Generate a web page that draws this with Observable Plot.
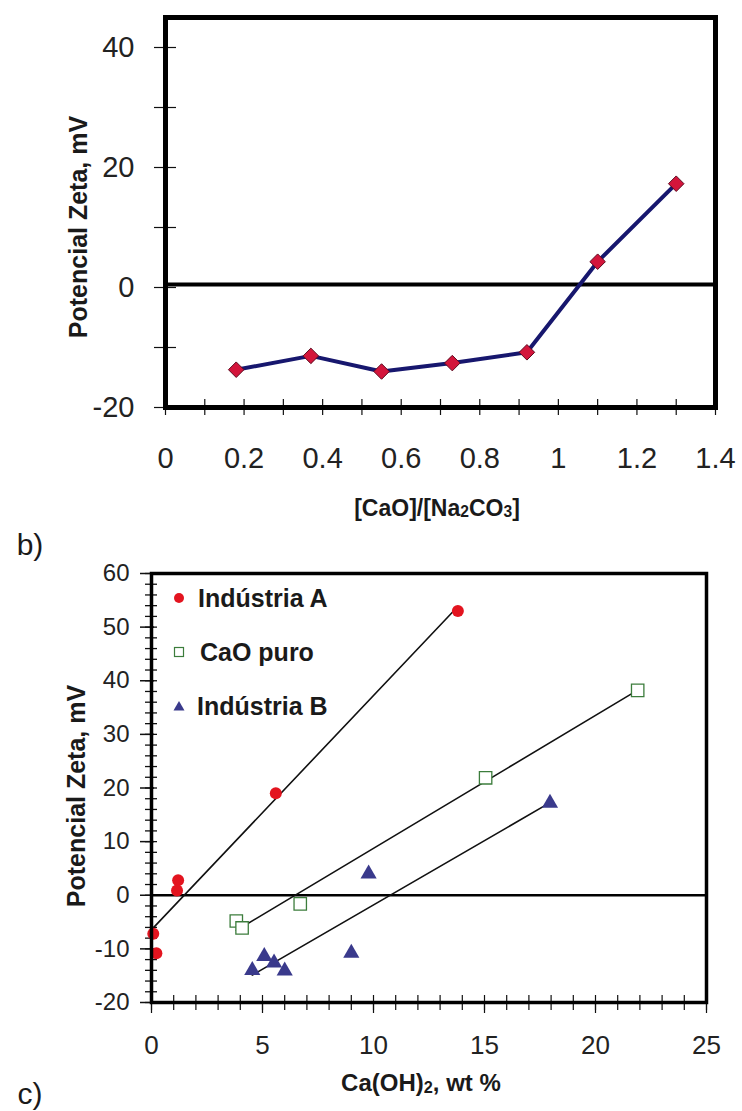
<!DOCTYPE html>
<html>
<head>
<meta charset="utf-8">
<script src="https://cdn.jsdelivr.net/npm/d3@7"></script>
<script src="https://cdn.jsdelivr.net/npm/@observablehq/plot@0.6"></script>
<style>
  html, body { margin: 0; padding: 0; background: #fff; }
  #wrap { position: relative; width: 742px; height: 1111px; overflow: hidden; background: #fff;
          font-family: "Liberation Sans", Arial, sans-serif; color: #1a1a1a; }
  #wrap svg { position: absolute; left: 0; }
  .t { position: absolute; white-space: nowrap; line-height: 1; }
  .c { transform: translate(-50%, -50%); }
  .rot { transform: translate(-50%, -50%) rotate(-90deg); }
  .bold { font-weight: bold; }
  sub { font-size: 0.68em; vertical-align: -0.12em; line-height: 0; }
  .leg { position: absolute; display: flex; align-items: center; font-weight: bold; font-size: 25px; color: #1a1a1a; }
</style>
</head>
<body>
<div id="wrap"></div>
<script>
// ---------- Panel b: zeta potential vs [CaO]/[Na2CO3] ----------
const ratioCaONa = [0.18, 0.37, 0.55, 0.73, 0.92, 1.10, 1.30];
const zetaRatio  = [-13.7, -11.4, -14.0, -12.6, -10.8, 4.3, 17.3];
const xLabelsB   = [0, 0.2, 0.4, 0.6, 0.8, 1, 1.2, 1.4];
const xMinorB    = [0, 0.1, 0.2, 0.3, 0.4, 0.5, 0.6, 0.7, 0.8, 0.9, 1.0, 1.1, 1.2, 1.3, 1.4];
const yLabelsB   = [-20, 0, 20, 40];
const yMinorB    = [-20, -10, 0, 10, 20, 30, 40];
const refLineB   = [0.5];

// ---------- Panel c: zeta potential vs Ca(OH)2 wt % ----------
const indA_x   = [13.8, 5.6, 1.2, 1.15, 0.08, 0.22];
const indA_y   = [53.0, 19.0, 2.8, 0.9, -7.2, -10.8];
const caoPuro_x = [21.9, 15.05, 6.7, 3.82, 4.08];
const caoPuro_y = [38.2, 21.9, -1.6, -4.8, -6.1];
const indB_x   = [17.95, 9.78, 9.0, 5.08, 5.52, 4.54, 6.0];
const indB_y   = [17.2, 4.0, -10.8, -11.4, -12.6, -14.0, -14.1];
const xLabelsC = [0, 5, 10, 15, 20, 25];
const xMinorC  = [0,1,2,3,4,5,6,7,8,9,10,11,12,13,14,15,16,17,18,19,20,21,22,23,24,25];
const yLabelsC = [-20, -10, 0, 10, 20, 30, 40, 50, 60];
const yMinorC  = [-20,-18,-16,-14,-12,-10,-8,-6,-4,-2,0,2,4,6,8,10,12,14,16,18,20,22,24,26,28,30,32,34,36,38,40,42,44,46,48,50,52,54,56,58,60];
const legendNames = ["Indústria A", "CaO puro", "Indústria B"];

const zip = (xs, ys) => xs.map((x, i) => ({x, y: ys[i]}));
const dataRatio = zip(ratioCaONa, zetaRatio);
const dataA = zip(indA_x, indA_y);
const dataCaO = zip(caoPuro_x, caoPuro_y);
const dataB = zip(indB_x, indB_y);

const font = "'Liberation Sans', Arial, sans-serif";
const wrap = document.getElementById("wrap");

const plotB = Plot.plot({
  width: 742, height: 530,
  marginTop: 17, marginBottom: 123, marginLeft: 165, marginRight: 27,
  x: {domain: [0, 1.4]},
  y: {domain: [-20, 45]},
  style: {fontFamily: font, background: "transparent", color: "#111"},
  marks: [
    Plot.axisX({ticks: xMinorB, tickSize: 16, dy: -8, fill: "none", label: null, strokeWidth: 1.2}),
    Plot.axisX({ticks: xLabelsB, tickSize: 0, tickPadding: 40, fontSize: 29, fill: "#222",
                tickFormat: d => String(+d.toFixed(1)), label: null}),
    Plot.axisY({ticks: yMinorB, tickSize: 22, dx: 11, fill: "none", label: null, strokeWidth: 1.2}),
    Plot.axisY({ticks: yLabelsB, tickSize: 0, tickPadding: 31, fontSize: 29, fill: "#222",
                tickFormat: d => String(d), label: null}),
    Plot.ruleY(refLineB, {stroke: "#000", strokeWidth: 4}),
    Plot.line(dataRatio, {x: "x", y: "y", stroke: "#17176e", strokeWidth: 4}),
    Plot.dot(dataRatio, {x: "x", y: "y", symbol: "diamond2", r: 7, fill: "#d3153b", stroke: "#5e0b20", strokeWidth: 1}),
    Plot.frame({stroke: "#000", strokeWidth: 5})
  ]
});
plotB.style.top = "0px";
wrap.appendChild(plotB);

const plotC = Plot.plot({
  width: 742, height: 571,
  marginTop: 33, marginBottom: 109, marginLeft: 151, marginRight: 36,
  x: {domain: [0, 25]},
  y: {domain: [-20, 60]},
  style: {fontFamily: font, background: "transparent", color: "#111"},
  marks: [
    Plot.axisX({ticks: xMinorC, tickSize: 15, dy: -7, fill: "none", label: null, strokeWidth: 1.2}),
    Plot.axisX({ticks: xLabelsC, tickSize: 11, fill: "none", label: null, strokeWidth: 1.2}),
    Plot.axisX({ticks: xLabelsC, tickSize: 0, tickPadding: 33, fontSize: 26, fill: "#222",
                tickFormat: d => String(d), label: null}),
    Plot.axisY({ticks: yMinorC, tickSize: 12, dx: 6, fill: "none", label: null, strokeWidth: 1.3}),
    Plot.axisY({ticks: yLabelsC, tickSize: 14, dx: 3, fill: "none", label: null, strokeWidth: 1.5}),
    Plot.axisY({ticks: yLabelsC, tickSize: 0, tickPadding: 22, fontSize: 24, fill: "#222",
                tickFormat: d => String(d), label: null}),
    Plot.ruleY([0], {stroke: "#000", strokeWidth: 2.5}),
    Plot.linearRegressionY(dataA, {x: "x", y: "y", ci: 0, stroke: "#111", strokeWidth: 1.6}),
    Plot.linearRegressionY(dataCaO, {x: "x", y: "y", ci: 0, stroke: "#111", strokeWidth: 1.6}),
    Plot.linearRegressionY(dataB, {x: "x", y: "y", ci: 0, stroke: "#111", strokeWidth: 1.6}),
    Plot.dot(dataA, {x: "x", y: "y", symbol: "circle", r: 6, fill: "#e3141f"}),
    Plot.dot(dataCaO, {x: "x", y: "y", symbol: "square", r: 7, fill: "white", stroke: "#3c7d3c", strokeWidth: 1.3}),
    Plot.dot(dataB, {x: "x", y: "y", symbol: "triangle", r: 6, fill: "#3a3a8c"}),
    Plot.frame({stroke: "#000", strokeWidth: 3.5})
  ]
});
plotC.style.top = "540px";
wrap.appendChild(plotC);

// ---------- HTML text (titles, panel letters, legend) ----------
function addText(html, cls, left, top, size) {
  const d = document.createElement("div");
  d.className = "t " + cls;
  d.style.left = left + "px";
  d.style.top = top + "px";
  d.style.fontSize = size + "px";
  d.innerHTML = html;
  wrap.appendChild(d);
  return d;
}
addText("Potencial Zeta, mV", "rot bold", 78, 227, 25);
addText("[CaO]/[Na<sub>2</sub>CO<sub>3</sub>]", "c bold", 437, 508, 23);
addText("b)", "c", 30, 545, 30);

addText("Potencial Zeta, mV", "rot bold", 76, 796, 25);
addText("Ca(OH)<sub>2</sub>, wt %", "c bold", 421, 1083, 24);
addText("c)", "c", 30, 1094, 30);

const legSymbols = [
  '<svg width="14" height="14" style="position:static"><circle cx="7" cy="7" r="5" fill="#e3141f"/></svg>',
  '<svg width="14" height="14" style="position:static"><rect x="2.5" y="2.5" width="9" height="9" fill="white" stroke="#3c7d3c" stroke-width="1.2"/></svg>',
  '<svg width="14" height="14" style="position:static"><path d="M7,2 L12.5,11.5 L1.5,11.5 Z" fill="#3a3a8c"/></svg>'
];
const legRowsY = [598, 652, 706];
const legGap = [12, 14, 11];
legendNames.forEach((name, i) => {
  const d = document.createElement("div");
  d.className = "leg";
  d.style.left = "172px";
  d.style.top = (legRowsY[i] - 14) + "px";
  d.style.height = "28px";
  d.innerHTML = legSymbols[i] + '<span style="margin-left:' + legGap[i] + 'px">' + name + '</span>';
  wrap.appendChild(d);
});
</script>
</body>
</html>
